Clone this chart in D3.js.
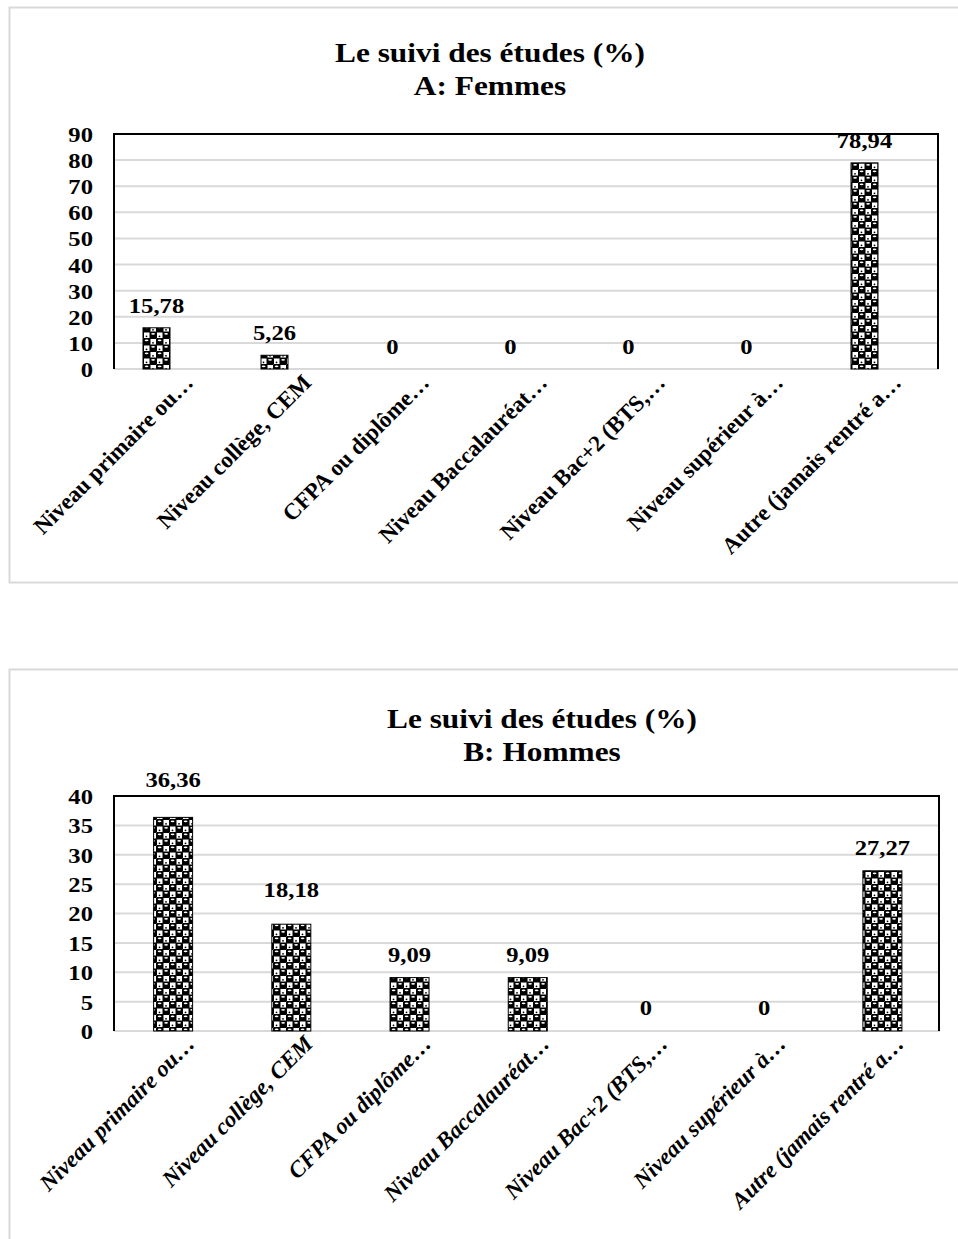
<!DOCTYPE html>
<html>
<head>
<meta charset="utf-8">
<script src="https://cdn.jsdelivr.net/npm/d3@7"></script>
<style>
body { margin:0; background:white; }
text { font-family:"Liberation Serif","Times New Roman",serif; font-weight:bold; fill:black; }
</style>
</head>
<body>
<svg id="chart"></svg>
<script>
var categories = ["Niveau primaire ou…", "Niveau collège, CEM", "CFPA ou diplôme…",
    "Niveau Baccalauréat…", "Niveau Bac+2 (BTS,…", "Niveau supérieur à…", "Autre (jamais rentré a…"]
var femmes = [15.78, 5.26, 0, 0, 0, 0, 78.94]
var hommes = [36.36, 18.18, 9.09, 9.09, 0, 0, 27.27]
var femmesLabels = ["15,78", "5,26", "0", "0", "0", "0", "78,94"]
var hommesLabels = ["36,36", "18,18", "9,09", "9,09", "0", "0", "27,27"]
var femmesTicks = [0, 10, 20, 30, 40, 50, 60, 70, 80, 90]
var hommesTicks = [0, 5, 10, 15, 20, 25, 30, 35, 40]

// the picture is a bit wider than tall, so upright text gets stretched too
var stretch = 1.12

var svg = d3.select("#chart")
    .attr("width", 958)
    .attr("height", 1239)

// checkerboard "sphere" fill like the Excel pattern
var defs = svg.append("defs")
var pat = defs.append("pattern")
    .attr("id", "sphere")
    .attr("patternUnits", "userSpaceOnUse")
    .attr("width", 13)
    .attr("height", 13)
pat.append("rect").attr("width", 13).attr("height", 13).attr("fill", "white")
pat.append("rect").attr("x", 0).attr("y", 0).attr("width", 7.5).attr("height", 7.5).attr("rx", 1).attr("fill", "black")
pat.append("rect").attr("x", 6.5).attr("y", 6.5).attr("width", 7.5).attr("height", 7.5).attr("rx", 1).attr("fill", "black")
pat.append("rect").attr("x", -6.5).attr("y", 6.5).attr("width", 7.5).attr("height", 7.5).attr("rx", 1).attr("fill", "black")
pat.append("rect").attr("x", 6.5).attr("y", -6.5).attr("width", 7.5).attr("height", 7.5).attr("rx", 1).attr("fill", "black")
pat.append("ellipse").attr("cx", 3.6).attr("cy", 2.3).attr("rx", 1.9).attr("ry", 0.9).attr("fill", "white")
pat.append("ellipse").attr("cx", 10.1).attr("cy", 8.8).attr("rx", 1.9).attr("ry", 0.9).attr("fill", "white")
pat.append("circle").attr("cx", 10).attr("cy", 4.8).attr("r", 0.9).attr("fill", "black")
pat.append("circle").attr("cx", 3.5).attr("cy", 11.3).attr("r", 0.9).attr("fill", "black")

var place = function(x, y)
{
    return "translate(" + x + "," + y + ") scale(" + stretch + ",1)"
}

var drawChart = function(cfg)
{
    var g = svg.append("g")

    g.append("rect")
        .attr("x", 9.5)
        .attr("y", cfg.frameTop + 0.5)
        .attr("width", 970)
        .attr("height", cfg.frameHeight)
        .attr("fill", "none")
        .attr("stroke", "#d9d9d9")
        .attr("stroke-width", 2)

    g.append("text")
        .text("Le suivi des études (%)")
        .attr("transform", place(cfg.titleX, cfg.titleY))
        .attr("text-anchor", "middle")
        .style("font-size", "28px")
    g.append("text")
        .text(cfg.subtitle)
        .attr("transform", place(cfg.titleX, cfg.titleY + 33))
        .attr("text-anchor", "middle")
        .style("font-size", "28px")

    var yScale = d3.scaleLinear()
        .domain([0, cfg.ticks[cfg.ticks.length - 1]])
        .range([cfg.bottom, cfg.top])

    var xScale = d3.scaleBand()
        .domain(categories)
        .range(cfg.bandRange)

    // gridlines
    g.append("g")
        .selectAll("line")
        .data(cfg.ticks.slice(1, -1))
        .enter()
        .append("line")
        .attr("x1", cfg.left)
        .attr("x2", cfg.right)
        .attr("y1", function(t) { return yScale(t) })
        .attr("y2", function(t) { return yScale(t) })
        .attr("stroke", "#d9d9d9")
        .attr("stroke-width", 2)

    var yAxis = d3.axisLeft(yScale)
        .tickValues(cfg.ticks)
        .tickSize(0)
        .tickPadding(0)
    var ya = g.append("g")
        .attr("transform", "translate(" + cfg.tickRight + ",0)")
        .call(yAxis)
    ya.select(".domain").remove()
    ya.selectAll("text")
        .attr("x", null)
        .attr("dy", "0.34em")
        .attr("transform", "scale(" + stretch + ",1)")
        .style("font-size", "22px")
        .style("font-family", "Liberation Serif")
        .style("font-weight", "bold")

    // bottom axis line (grey)
    g.append("line")
        .attr("x1", cfg.left)
        .attr("x2", cfg.right + 1)
        .attr("y1", yScale(0))
        .attr("y2", yScale(0))
        .attr("stroke", "#d9d9d9")
        .attr("stroke-width", 2)

    // black border left/top/right
    g.append("path")
        .attr("d", "M" + cfg.left + "," + yScale(0) + "V" + yScale(cfg.ticks[cfg.ticks.length - 1]) +
            "H" + cfg.right + "V" + yScale(0))
        .attr("fill", "none")
        .attr("stroke", "black")
        .attr("stroke-width", 2)

    g.append("g")
        .selectAll("rect")
        .data(cfg.values)
        .enter()
        .append("rect")
        .attr("x", function(v, i) { return xScale(categories[i]) + (xScale.bandwidth() - cfg.barWidth) / 2 })
        .attr("y", function(v) { return yScale(v) })
        .attr("width", function(v) { return v > 0 ? cfg.barWidth : 0 })
        .attr("height", function(v) { return yScale(0) - yScale(v) })
        .attr("fill", "url(#sphere)")
        .attr("stroke", "black")
        .attr("stroke-width", 1)

    g.append("g")
        .selectAll("text")
        .data(cfg.values)
        .enter()
        .append("text")
        .text(function(v, i) { return cfg.labels[i] })
        .attr("transform", function(v, i) {
            return place(xScale(categories[i]) + xScale.bandwidth() / 2, yScale(v) - cfg.labelGap - cfg.labelNudge[i])
        })
        .attr("text-anchor", "middle")
        .style("font-size", "22px")

    g.append("g")
        .selectAll("text")
        .data(categories)
        .enter()
        .append("text")
        .text(function(c) { return c })
        .attr("text-anchor", "end")
        .attr("transform", function(c) {
            return "translate(" + (xScale(c) + xScale.bandwidth() / 2 + cfg.catDx) + "," +
                (yScale(0) + cfg.catDy) + ") rotate(-45)"
        })
        .style("font-size", "23px")
        .style("font-style", cfg.italic ? "italic" : "normal")
}

drawChart({
    frameTop: 7, frameHeight: 575,
    titleX: 490, titleY: 62, subtitle: "A: Femmes",
    left: 114, right: 938, top: 134, bottom: 369,
    bandRange: [97.5, 923.5], barWidth: 27, tickRight: 93,
    ticks: femmesTicks, values: femmes, labels: femmesLabels,
    labelGap: 15, labelNudge: [0, 0, 0, 0, 0, 0, 0],
    catDx: 38, catDy: 15, italic: false
})

drawChart({
    frameTop: 669, frameHeight: 600,
    titleX: 542, titleY: 728, subtitle: "B: Hommes",
    left: 114, right: 939, top: 796, bottom: 1031,
    bandRange: [114, 941.5], barWidth: 39, tickRight: 93,
    ticks: hommesTicks, values: hommes, labels: hommesLabels,
    labelGap: 16, labelNudge: [14, 11, 0, 0, 0, 0, 0],
    catDx: 23, catDy: 14, italic: true
})
</script>
</body>
</html>
